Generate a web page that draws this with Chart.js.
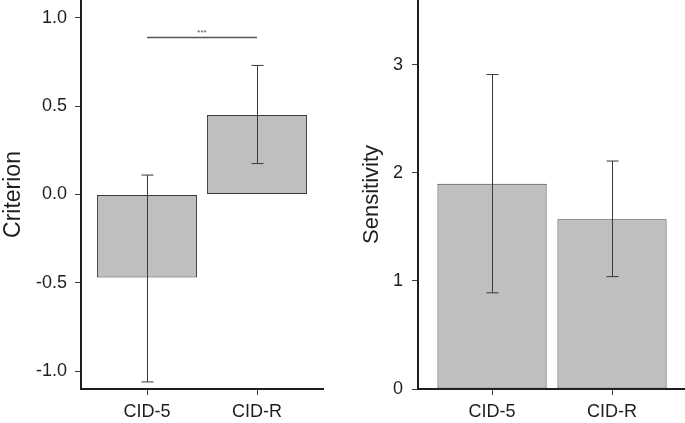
<!DOCTYPE html>
<html>
<head>
<meta charset="utf-8">
<script src="https://cdn.jsdelivr.net/npm/chart.js@4.4.1/dist/chart.umd.min.js"></script>
<style>
  html, body { margin: 0; padding: 0; background: #fff; }
  #wrap { position: relative; width: 685px; height: 423px; overflow: hidden; }
  canvas { position: absolute; top: 0; }
  #left { left: 0; }
  #right { left: 340px; }
</style>
</head>
<body>
<div id="wrap">
  <canvas id="left" width="340" height="423"></canvas>
  <canvas id="right" width="345" height="423"></canvas>
</div>
<script>
// groups on the x axis
const categories = ['CID-5', 'CID-R'];

// left panel: criterion means and error bar ends
const criterionMean = [-0.47, 0.45];
const criterionLow = [-1.06, 0.175];
const criterionHigh = [0.11, 0.73];
const sigLevel = 0.89;
const sigLabel = '***';

// right panel: sensitivity means and error bar ends
const sensitivityMean = [1.90, 1.57];
const sensitivityLow = [0.89, 1.04];
const sensitivityHigh = [2.91, 2.11];

const FONT = "'Liberation Sans', Arial, sans-serif";
const INK = '#1e1e1e';
const EDGE = '#3a3a3a';

// whiskers drawn on top of each bar, positions come from the chart scales
const errorBars = {
    id: 'errorBars',
    afterDatasetsDraw(chart, args, opts) {
        const { ctx, scales: { x, y } } = chart;
        ctx.save();
        ctx.strokeStyle = EDGE;
        ctx.lineWidth = 1;
        opts.low.forEach((lo, i) => {
            const px = Math.round(x.getPixelForValue(i + 1)) + 0.5;
            const top = y.getPixelForValue(opts.high[i]);
            const bot = y.getPixelForValue(lo);
            ctx.beginPath();
            ctx.moveTo(px, top); ctx.lineTo(px, bot);
            ctx.moveTo(px - 6, top); ctx.lineTo(px + 6, top);
            ctx.moveTo(px - 6, bot); ctx.lineTo(px + 6, bot);
            ctx.stroke();
        });
        ctx.restore();
    },
};

// significance bracket between the two groups
const sigLine = {
    id: 'sigLine',
    afterDatasetsDraw(chart, args, opts) {
        if (!opts.show) return;
        const { ctx, scales: { x, y } } = chart;
        const py = Math.round(y.getPixelForValue(opts.level)) + 0.5;
        const x1 = x.getPixelForValue(1), x2 = x.getPixelForValue(2);
        ctx.save();
        ctx.strokeStyle = '#555';
        ctx.lineWidth = 1.4;
        ctx.beginPath();
        ctx.moveTo(x1, py); ctx.lineTo(x2, py);
        ctx.stroke();
        ctx.fillStyle = '#555';
        ctx.font = `8px ${FONT}`;
        ctx.textAlign = 'center';
        ctx.textBaseline = 'bottom';
        ctx.fillText(opts.label, (x1 + x2) / 2, py - 1);
        ctx.restore();
    },
};

// drop the half-label padding chart.js reserves so the axes run to the canvas edge
function noPad(s) {
    s.paddingTop = 0; s.paddingBottom = 0;
    s.paddingLeft = 0; s.paddingRight = 0;
}

function makeChart(id, cfg) {
    const data = categories.map((c, i) => ({ x: i + 1, y: cfg.mean[i] }));
    return new Chart(document.getElementById(id), {
        type: 'bar',
        data: {
            datasets: [{
                data,
                backgroundColor: '#bfbfbf',
                borderColor: EDGE,
                borderWidth: 1,
                borderSkipped: false,
                barPercentage: 0.91,
                categoryPercentage: 1,
            }],
        },
        options: {
            responsive: false,
            animation: false,
            layout: { padding: { left: 0, right: cfg.padRight, top: 0, bottom: 0 } },
            plugins: {
                legend: { display: false },
                tooltip: { enabled: false },
                errorBars: { low: cfg.low, high: cfg.high },
                sigLine: { show: !!cfg.sig, level: sigLevel, label: sigLabel },
            },
            scales: {
                x: {
                    type: 'linear',
                    min: cfg.xMin, max: cfg.xMax,
                    offset: false,
                    afterBuildTicks: s => { s.ticks = categories.map((c, i) => ({ value: i + 1 })); },
                    afterFit: s => { s.height = 34; noPad(s); },
                    ticks: {
                        callback: v => categories[v - 1],
                        color: INK, padding: 6, maxRotation: 0,
                        font: { family: FONT, size: 18 },
                    },
                    grid: { display: true, drawOnChartArea: false, offset: false, tickLength: 6, color: EDGE, lineWidth: 1 },
                    border: { display: true, color: INK, width: 2 },
                },
                y: {
                    min: cfg.yMin, max: cfg.yMax,
                    afterFit: s => { s.width = cfg.axisWidth; noPad(s); },
                    ticks: {
                        stepSize: cfg.step,
                        includeBounds: false,
                        callback: cfg.fmt,
                        color: INK, padding: cfg.tickPad,
                        font: { family: FONT, size: 18 },
                    },
                    grid: { display: true, drawOnChartArea: false, tickLength: 6, color: EDGE, lineWidth: 1 },
                    border: { display: true, color: INK, width: 2 },
                    title: {
                        display: true, text: cfg.title, color: INK,
                        padding: { top: cfg.titlePad, bottom: 0 },
                        font: { family: FONT, size: cfg.titleSize },
                    },
                },
            },
        },
        plugins: [errorBars, sigLine],
    });
}

makeChart('left', {
    mean: criterionMean, low: criterionLow, high: criterionHigh, sig: true,
    xMin: 0.4, xMax: 2.6, yMin: -1.1, yMax: 1.1, step: 0.5,
    fmt: v => v.toFixed(1),
    axisWidth: 81, padRight: 17, tickPad: 8,
    title: 'Criterion', titleSize: 23, titlePad: 0,
});

makeChart('right', {
    mean: sensitivityMean, low: sensitivityLow, high: sensitivityHigh, sig: false,
    xMin: 0.383, xMax: 2.608, yMin: 0, yMax: 3.6, step: 1,
    fmt: v => String(v),
    axisWidth: 78, padRight: 0, tickPad: 9,
    title: 'Sensitivity', titleSize: 22, titlePad: 19,
});
</script>
</body>
</html>
